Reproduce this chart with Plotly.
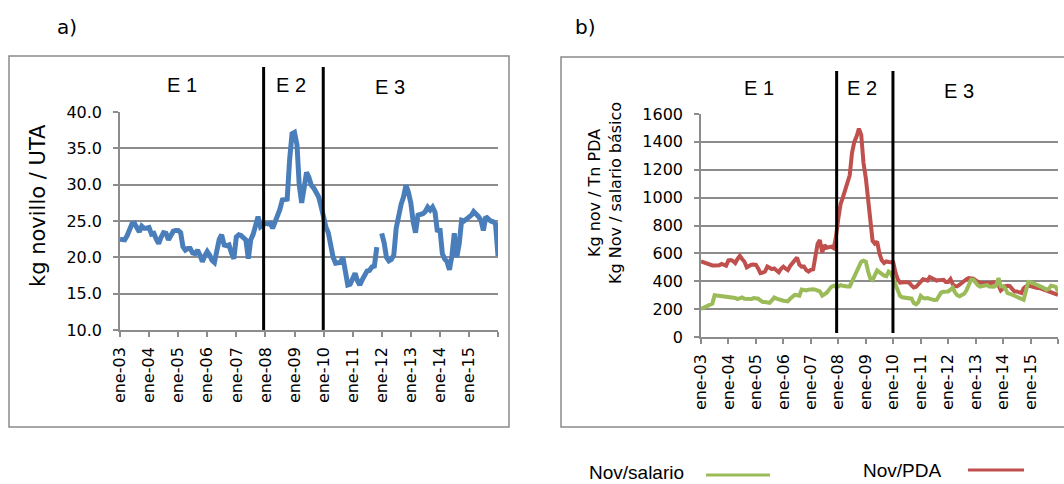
import pandas as pd
import plotly.graph_objects as go

# Monthly series, Jan 2003 - Jan 2016
months = pd.date_range("2003-01-01", "2016-01-01", freq="MS")

# a) kg of steer per UTA
kg_novillo_uta = [
    22.5, 22.4, 22.4, 23.0, 24.0, 24.6, 24.7, 24.2, 23.5, 24.3, 24.0, 24.0,
    24.1, 23.2, 23.3, 22.5, 21.9, 22.8, 23.4, 23.3, 22.4, 23.0, 23.6, 23.7,
    23.7, 23.4, 21.5, 21.0, 21.2, 21.2, 20.6, 20.5, 21.0, 20.3, 19.4, 20.2,
    20.8, 20.3, 19.6, 19.3, 21.2, 22.5, 23.1, 21.7, 21.6, 21.7, 20.6, 19.8,
    22.8, 23.1, 23.0, 22.7, 22.4, 19.8, 22.4, 23.2, 24.7, 25.6, 24.2, 24.5,
    24.7, 24.6, 24.7, 24.0, 24.8, 25.9, 26.6, 27.9, 27.9, 28.0, 33.5, 37.0,
    37.2, 35.5, 30.0, 27.5, 29.5, 31.7, 31.0, 29.9, 29.5, 29.0, 28.3, 27.0,
    25.3, 24.1, 23.4, 21.5, 20.0, 19.2, 19.3, 19.3, 20.0, 18.5, 16.2, 16.3,
    17.2, 17.8, 16.8, 16.2, 16.9, 17.5, 18.1, 18.2, 18.7, 18.8, 21.4, None,
    23.3, 22.0, 20.0, 19.5, 19.7, 20.3, 24.0, 26.0, 27.3, 28.3, 29.9, 29.0,
    27.5, 24.8, 23.4, 25.8, 25.9, 26.0, 26.3, 26.9, 26.5, 26.9, 26.2, 23.5,
    24.0, 20.5, 19.8, 19.4, 18.3, 20.2, 23.3, 20.0, 21.9, 25.1, 25.0, 25.2,
    25.4, 25.8, 26.3, 26.0, 25.6, 25.1, 23.7, 25.6, 25.2, 25.0, 24.9, 24.6,
    20.2,
]

# b) kg of steer per basic salary
nov_salario = [
    201, 208, 215, 225, 235, 240, 300, 298, 296, 296, 296, 293,
    291, 288, 284, 280, 272, 282, 284, 275, 272, 268, 272, 279,
    278, 275, 262, 251, 251, 251, 245, 262, 284, 276, 270, 262,
    260, 258, 256, 275, 290, 303, 300, 296, 340, 338, 334, 340,
    344, 342, 340, 334, 327, 296, 305, 318, 340, 360, 368, 360,
    362, 372, 368, 363, 363, 363, 400, 440, 480, 500, 540, 548,
    540, 470, 420, 410, 440, 478, 465, 450, 440, 436, 470, 460,
    415, 363, 320, 295, 285, 283, 279, 282, 275, 244, 235, 250,
    295, 280, 276, 279, 272, 267, 265, 267, 300, 320, 325, 327,
    327, 340, 355, 320, 300, 292, 298, 310, 335, 370, 411, 411,
    385, 370, 362, 365, 375, 372, 362, 358, 360, 372, 423, 363,
    365, 345, 315, 310, 302, 296, 290, 279, 272, 267, 330, 395,
    393, 387, 380, 370, 365, 358, 350, 339, 345, 368, 365, 360,
    327,
]

# b) kg of steer per tonne of PDA
nov_pda = [
    542, 535, 528, 520, 515, 513, 513, 513, 515, 524, 515, 512,
    550, 552, 545, 530, 560, 582, 560, 540, 500, 510, 518, 520,
    518, 490, 458, 462, 470, 505, 498, 487, 492, 480, 465, 490,
    505, 490, 480, 510, 530, 560, 570, 520, 505, 506, 480, 470,
    482, 485, 560, 670, 695, 605, 660, 640, 645, 648, 638, 720,
    850, 955, 1000, 1060, 1110, 1160, 1320, 1400, 1440, 1495, 1450, 1250,
    1140, 1000, 830, 690, 670, 685, 600, 550, 530, 542, 538, 535,
    535, 460, 415, 390, 388, 392, 392, 390, 370, 355, 360, 375,
    395, 415, 412, 405, 430, 420, 410, 405, 408, 411, 411, 395,
    395, 416, 380, 365, 365, 375, 390, 400, 415, 423, 423, 418,
    406, 395, 387, 387, 387, 385, 382, 388, 392, 388, 370, 334,
    350, 365, 368, 365, 345, 327, 327, 322, 315, 350, 368, 375,
    365, 358, 356, 352, 351, 345, 339, 335, 328, 320, 312, 308,
    303,
]

years = list(range(2003, 2017))
tick_dates = [f"{y}-01-01" for y in years]
tick_text = [f"ene-{y % 100:02d}" for y in years[:-1]] + [""]

stage_breaks = ["2007-12-10", "2009-12-28"]

W, H = 1064, 484
BLUE, RED, GREEN = "#4a7ebb", "#c0504d", "#9bbb59"
GRID = "#8c8c8c"
SANS = "DejaVu Sans, Verdana, sans-serif"
ARIAL = "Liberation Sans, Arial, sans-serif"
TICK_FONT = dict(family=SANS, size=16, color="#000")


def px_x(p):
    return p / W


def px_y(p):
    return 1 - p / H


fig = go.Figure()

fig.add_trace(go.Scatter(x=months, y=kg_novillo_uta, mode="lines",
                         line=dict(color=BLUE, width=5), xaxis="x", yaxis="y",
                         showlegend=False))
fig.add_trace(go.Scatter(x=months, y=nov_pda, mode="lines", name="Nov/PDA",
                         line=dict(color=RED, width=4), xaxis="x2", yaxis="y2",
                         showlegend=False))
fig.add_trace(go.Scatter(x=months, y=nov_salario, mode="lines", name="Nov/salario",
                         line=dict(color=GREEN, width=4), xaxis="x2", yaxis="y2",
                         showlegend=False))

xaxis_common = dict(
    type="date", range=["2003-01-01", "2016-01-01"],
    tickvals=tick_dates, ticktext=tick_text, tickangle=-90,
    ticks="outside", ticklen=5, tickcolor=GRID, tickwidth=1.5,
    showline=True, linecolor=GRID, linewidth=1.5, showgrid=False,
    zeroline=False, tickfont=TICK_FONT, ticklabelstandoff=4, automargin=False,
)
yaxis_common = dict(
    ticks="outside", ticklen=5, tickcolor=GRID, tickwidth=1.5,
    showline=True, linecolor=GRID, linewidth=1.5,
    showgrid=True, gridcolor=GRID, gridwidth=1.5, zeroline=False,
    tickfont=TICK_FONT, ticklabelstandoff=8, automargin=False,
)

fig.update_layout(
    width=W, height=H,
    margin=dict(l=0, r=0, t=0, b=0, pad=0, autoexpand=False),
    paper_bgcolor="white", plot_bgcolor="white",
    xaxis=dict(domain=[px_x(120), px_x(498)], anchor="y", **xaxis_common),
    yaxis=dict(domain=[px_y(330), px_y(112)], anchor="x", range=[10, 40],
               tickvals=[10, 15, 20, 25, 30, 35, 40], tickformat=".1f",
               **yaxis_common),
    xaxis2=dict(domain=[px_x(701), px_x(1058)], anchor="y2", **xaxis_common),
    yaxis2=dict(domain=[px_y(337), px_y(114)], anchor="x2", range=[0, 1600],
                tickvals=list(range(0, 1601, 200)), **yaxis_common),
)

shapes = []
# Chart frames
shapes.append(dict(type="rect", xref="paper", yref="paper",
                   x0=px_x(9), x1=px_x(509), y0=px_y(427), y1=px_y(56),
                   line=dict(color="#8a8a8a", width=1.5), layer="below"))
shapes.append(dict(type="rect", xref="paper", yref="paper",
                   x0=px_x(561), x1=1.02, y0=px_y(427), y1=px_y(57),
                   line=dict(color="#8a8a8a", width=1.5), layer="below"))
# Stage boundaries
for d in stage_breaks:
    shapes.append(dict(type="line", xref="x", yref="paper", x0=d, x1=d,
                       y0=px_y(330), y1=px_y(67),
                       line=dict(color="black", width=3)))
    shapes.append(dict(type="line", xref="x2", yref="paper", x0=d, x1=d,
                       y0=px_y(333), y1=px_y(71),
                       line=dict(color="black", width=3)))
# Legend swatches
shapes.append(dict(type="line", xref="paper", yref="paper",
                   x0=px_x(706), x1=px_x(770), y0=px_y(475), y1=px_y(475),
                   line=dict(color=GREEN, width=3)))
shapes.append(dict(type="line", xref="paper", yref="paper",
                   x0=px_x(968), x1=px_x(1024), y0=px_y(470), y1=px_y(470),
                   line=dict(color=RED, width=3)))
fig.update_layout(shapes=shapes)


def label(text, x, y, size, family, angle=0):
    fig.add_annotation(text=text, xref="paper", yref="paper",
                       x=px_x(x), y=px_y(y), xanchor="center", yanchor="middle",
                       showarrow=False, textangle=angle,
                       font=dict(family=family, size=size, color="#000"))


label("a)", 67, 27, 20, SANS)
label("b)", 585, 27, 20, SANS)
for txt, x, y in [("E 1", 182, 85), ("E 2", 291, 85), ("E 3", 390, 87),
                  ("E 1", 759, 88), ("E 2", 862, 88), ("E 3", 959, 91)]:
    label(txt, x, y, 20, ARIAL)
label("kg novillo / UTA", 38, 206, 21, SANS, -90)
label("Kg nov / Tn PDA<br>Kg Nov / salario básico", 605, 193, 16, SANS, -90)
label("Nov/salario", 636, 472, 19, ARIAL)
label("Nov/PDA", 902, 470, 19, ARIAL)

fig.write_html("out.html")
